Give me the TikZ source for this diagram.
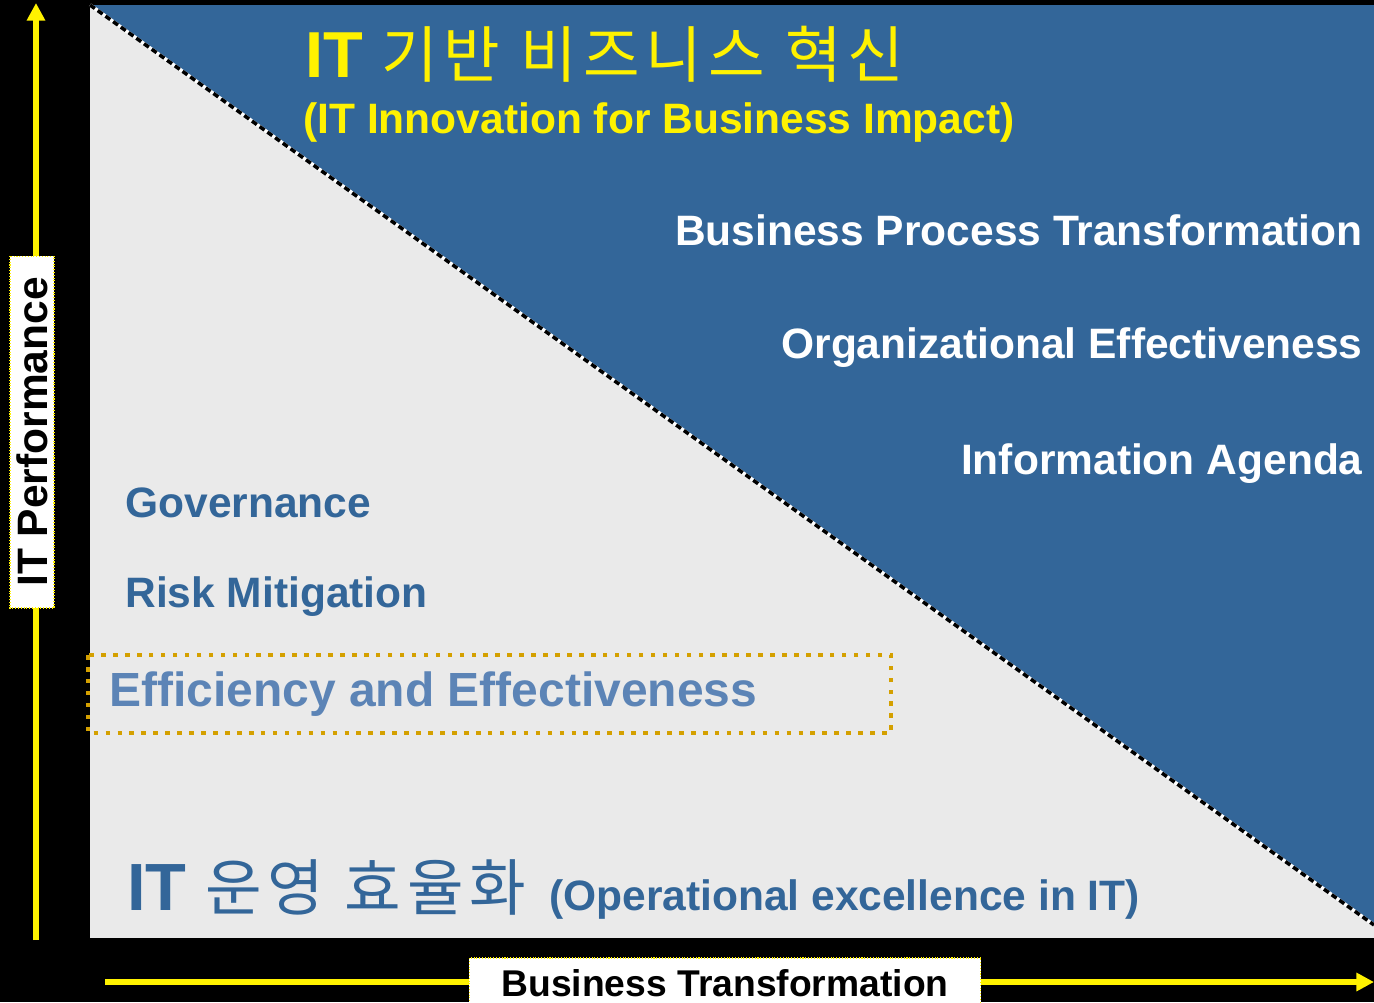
\documentclass[tikz,border=0pt]{standalone}
\usepackage{fontspec}
\setmainfont{Liberation Sans}
\newfontfamily\krfont[LetterSpace=10]{Noto Sans CJK KR}
\usetikzlibrary{positioning, arrows.meta}

\definecolor{itblue}{RGB}{51,102,153}
\definecolor{effblue}{RGB}{92,132,182}
\definecolor{panelgray}{RGB}{234,234,234}
\definecolor{dotgold}{RGB}{212,160,0}

\newcommand{\bigtxt}{\bfseries\fontsize{24.2}{28}\selectfont}

\begin{document}
\begin{tikzpicture}[x=0.02cm, y=-0.02cm,
    axis-arr/.style={yellow, line width=3.4pt, -{Triangle[width=10pt, length=10pt]}},
    axis-lbl/.style={fill=white, draw=yellow, densely dotted, line width=0.6pt, inner sep=0pt, text=black},
    right-txt/.style={text=white, font=\bigtxt, anchor=base east, inner sep=0pt},
    left-txt/.style={text=itblue, font=\bigtxt, anchor=base west, inner sep=0pt}
  ]

  \fill[black] (0,0) rectangle (1374,1002);
  \useasboundingbox (0,0) rectangle (1374,1002);

%% gray panel and the blue upper triangle
  \fill[panelgray] (90,5) rectangle (1374,938);
  \fill[itblue] (90,5) -- (1374,5) -- (1374,925) -- cycle;
  \draw[white, line width=2pt] (90,5) -- (1374,925);
  \draw[black, line width=2pt, dash pattern=on 3.4pt off 2pt] (90,5) -- (1374,925);

%% axes
  \coordinate (y-start) at (36,940);
  \coordinate (y-end) at (36,3);
  \coordinate (x-start) at (105,982);
  \coordinate (x-end) at (1374,982);
  \draw[axis-arr] (y-start) -- (y-end);
  \draw[axis-arr] (x-start) -- (x-end);

  \node (perf) [axis-lbl, rotate=90, minimum width=7.04cm, minimum height=0.88cm, font=\bigtxt] at (32,432) {IT Performance};
  \node (trans) [axis-lbl, minimum width=10.24cm, minimum height=1.0cm, font=\bfseries\fontsize{21.2}{24}\selectfont] at (725,983) {Business Transformation};

%% upper part: innovation
  \node (title) [anchor=base west, inner sep=0pt, text=yellow] at (305,77)
    {\bfseries\fontsize{37}{40}\selectfont IT \krfont\mdseries\fontsize{35}{40}\selectfont 기반 비즈니스 혁신};
  \node (subtitle) [anchor=base west, inner sep=0pt, text=yellow, font=\bfseries\fontsize{24.2}{28}\selectfont] at (303,133)
    {(IT Innovation for Business Impact)};

  \node (bpt) [right-txt] at (1363,245) {Business Process Transformation};
  \node (org) [right-txt] at (1363,358) {Organizational Effectiveness};
  \node (info) [right-txt] at (1363,474) {Information Agenda};

%% lower part: operations
  \node (gov) [left-txt] at (125,517) {Governance};
  \node (risk) [left-txt] at (125,607) {Risk Mitigation};
  \node (eff) [left-txt, text=effblue, font=\bfseries\fontsize{27.3}{30}\selectfont] at (109,706) {Efficiency and Effectiveness};
  \draw[dotgold, line width=2.6pt, dash pattern=on 2.6pt off 4.2pt] (88,655) rectangle (891,733);

  \node (opex) [anchor=base west, inner sep=0pt, text=itblue] at (127,910)
    {\bfseries\fontsize{38}{40}\selectfont IT \krfont\mdseries\fontsize{35}{40}\selectfont 운영 효율화};
  \node (opex-en) [left-txt, right=0.44cm of opex.base east, anchor=base west] {(Operational excellence in IT)};

\end{tikzpicture}
\end{document}
